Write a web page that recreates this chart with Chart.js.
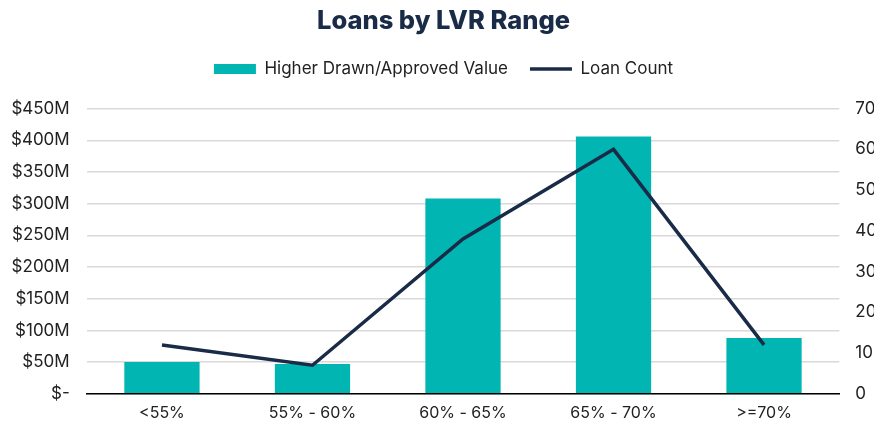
<!DOCTYPE html>
<html>
<head>
<meta charset="utf-8">
<script src="https://cdn.jsdelivr.net/npm/chart.js@4"></script>
<style>
  html, body { margin: 0; padding: 0; background: #fff; overflow: hidden; }
  #wrap { width: 905px; height: 425px; margin-left: -12px; }
</style>
</head>
<body>
<div id="wrap"><canvas id="lvrChart"></canvas></div>
<script>
// Loans by LVR range
const categories = ['<55%', '55% - 60%', '60% - 65%', '65% - 70%', '>=70%'];
const drawnValues = [50e6, 47e6, 308e6, 406e6, 88e6];
const loanCounts = [12, 7, 38, 60, 12];

const TEAL = '#00b5b2';
const NAVY = '#1a2b48';
const FONT = "'Inter', sans-serif";

// push the plot area down a bit below the legend
const legendGap = {
  id: 'legendGap',
  beforeInit(chart) {
    const fit = chart.legend.fit;
    chart.legend.fit = function () {
      fit.bind(chart.legend)();
      this.height += 21;
    };
  }
};

new Chart(document.getElementById('lvrChart'), {
  data: {
    labels: categories,
    datasets: [
      {
        type: 'line',
        label: 'Loan Count',
        data: loanCounts,
        yAxisID: 'y1',
        borderColor: NAVY,
        backgroundColor: NAVY,
        borderWidth: 3.5,
        pointRadius: 0,
        tension: 0,
        order: 0
      },
      {
        type: 'bar',
        label: 'Higher Drawn/Approved Value',
        data: drawnValues,
        yAxisID: 'y',
        backgroundColor: TEAL,
        barPercentage: 0.5,
        categoryPercentage: 1,
        order: 1
      }
    ]
  },
  options: {
    responsive: true,
    maintainAspectRatio: false,
    animation: false,
    layout: { padding: { left: 6, right: 0, top: 6, bottom: -8 } },
    plugins: {
      title: {
        display: true,
        text: 'Loans by LVR Range',
        color: NAVY,
        font: { family: FONT, size: 25.5, weight: 800 },
        padding: { top: 0, bottom: 2 }
      },
      legend: {
        position: 'top',
        reverse: true,
        labels: {
          color: '#222',
          font: { family: FONT, size: 17 },
          usePointStyle: true,
          pointStyleWidth: 42,
          boxHeight: 10,
          padding: 22,
          generateLabels: (chart) => {
            const items = Chart.defaults.plugins.legend.labels.generateLabels(chart);
            items.forEach(it => {
              const ds = chart.data.datasets[it.datasetIndex];
              if (ds.type === 'line') {
                it.pointStyle = 'line';
                it.lineWidth = 3.5;
                it.strokeStyle = NAVY;
              } else {
                it.pointStyle = 'rect';
                it.lineWidth = 0;
                it.fillStyle = TEAL;
                it.strokeStyle = TEAL;
              }
            });
            return items;
          }
        }
      },
      tooltip: { enabled: false }
    },
    scales: {
      x: {
        grid: { display: false, drawTicks: false },
        border: { color: '#000', width: 1.5 },
        ticks: { color: '#222', font: { family: FONT, size: 16 }, padding: 10 }
      },
      y: {
        position: 'left',
        min: 0,
        max: 450e6,
        grid: { color: '#d9d9d9', lineWidth: 1.5, drawTicks: false },
        border: { display: false },
        ticks: {
          stepSize: 50e6,
          color: '#222',
          padding: 17,
          font: { family: FONT, size: 17 },
          callback: v => v === 0 ? '$-' : '$' + (v / 1e6) + 'M'
        }
      },
      y1: {
        position: 'right',
        min: 0,
        max: 70,
        grid: { display: false, drawTicks: false },
        border: { display: false },
        ticks: {
          stepSize: 10,
          color: '#222',
          padding: 16,
          font: { family: FONT, size: 17 }
        }
      }
    }
  },
  plugins: [legendGap]
});
</script>
</body>
</html>
